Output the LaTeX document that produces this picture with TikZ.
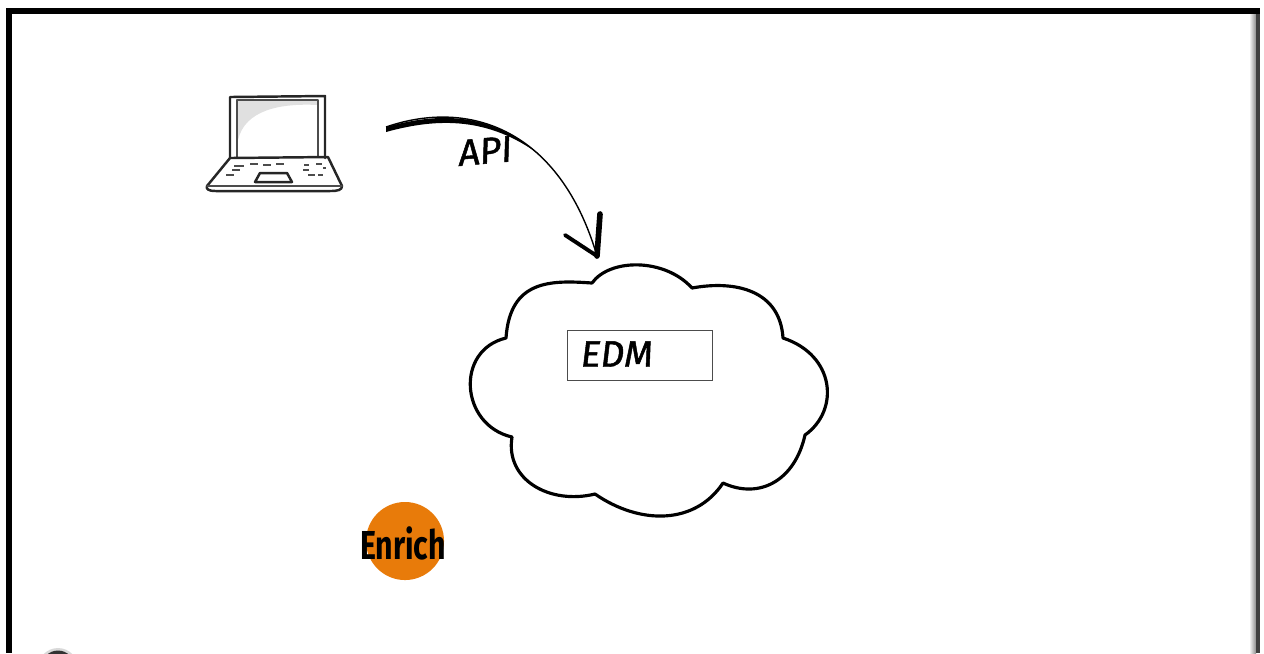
\documentclass[tikz,border=0pt]{standalone}
\usepackage{fontspec}
\setmainfont{Fira Sans}
\newfontfamily\handfont{Fira Sans}[FakeBold=1.3,FakeSlant=0.12]
\definecolor{enrichorange}{HTML}{E87B0A}
\tikzset{
  sketch/.style={draw=black!70,line width=0.45pt,line join=round,line cap=round},
  heavy/.style={draw=black,line width=0.9pt,line join=round,line cap=round},
  laptopline/.style={draw=black!85,line width=0.7pt,line join=round,line cap=round},
  keydash/.style={draw=black!70,line width=0.7pt},
  hand/.style={inner sep=0pt,font=\fontsize{10.5}{12}\handfont},
  edmbox/.style={draw=black!70,line width=0.5pt,minimum width=1.45cm,minimum height=0.5cm,inner sep=0pt},
  enrichdot/.style={circle,fill=enrichorange,minimum size=0.78cm,inner sep=0pt}
}
\begin{document}
\begin{tikzpicture}[x=0.01cm,y=-0.01cm]
   \useasboundingbox (0,0) rectangle (1264,653);
   \fill[black] (6,8) rectangle (1260,14);
   \fill[black] (6,8) rectangle (12,653);
   \shade[left color=white,right color=black!45] (1249,14) rectangle (1256,653);
   \fill[black!75] (1256,14) rectangle (1260,653);
   \begin{scope}
     \clip (0,0) rectangle (1264,653);
     \fill[black!15] (58,668) ellipse (20 and 20);
     \fill[black!80] (58,668) ellipse (17 and 17.5);
   \end{scope}

   \fill[black!12] (237,100) -- (318,100) -- (318,105) .. controls (280,103) and (245,110) .. (238,140) -- cycle;
   \draw[laptopline] (230,158) -- (230,97) -- (325,96) -- (325,158);
   \draw[sketch] (237,158) -- (237,100) -- (318,100) -- (318,156);
   \draw[laptopline] (230,158) -- (328,157) -- (342,186) .. controls (342,190) and (338,191) .. (330,191)
     -- (216,191) .. controls (208,191) and (206,189) .. (207,186) -- cycle;
   \draw[sketch] (207,186) -- (342,186);
   \draw[laptopline] (255,182) -- (260,173) -- (287,173) -- (292,182) -- cycle;
   \foreach \xa/\ya/\xb in {234/166/244,232/170/240,250/164/258,263/165/271,276/164/284,
      226/175/234,304/165/309,316/164/322,303/170/309,323/168/326,308/175/315,318/175/323}
     \draw[keydash] (\xa,\ya) -- (\xb,\ya);

   \coordinate (apistart) at (386,127);
   \coordinate (apiend) at (597,256);
   \coordinate (apibarb) at (565,235);
   \coordinate (apiback) at (600,214);
   \draw[line width=0.4pt] (apistart) .. controls (470,98) and (560,130) .. (apiend);
   \fill[black] (apistart) .. controls (440,112) and (490,112) .. (540,155)
     .. controls (490,118) and (440,117) .. (386,132) -- cycle;
   \draw[line width=1.1pt,line cap=round] (apibarb) -- (apiend);
   \draw[line width=1.6pt,line cap=round] (apiback) -- (apiend);
   \node[hand,rotate=5] (api) at (484,151) {API};

   \draw[heavy] (592,283) .. controls (610,258) and (665,258) .. (692,288)
     .. controls (735,280) and (780,290) .. (783,338)
     .. controls (835,355) and (840,410) .. (805,435)
     .. controls (795,480) and (760,500) .. (723,483)
     .. controls (695,525) and (640,525) .. (595,494)
     .. controls (550,505) and (505,480) .. (512,437)
     .. controls (460,425) and (455,350) .. (506,338)
     .. controls (510,280) and (550,280) .. (592,283) -- cycle;
   \node[edmbox] (edm) at (640,355.5) {};
   \node[hand,anchor=west] (edmlabel) at (579,354) {EDM};

   \node[enrichdot] (enrich) at (405,541) {};
   \node[inner sep=0pt,xscale=0.75,font=\fontsize{11.5}{12}\selectfont\bfseries] (enrichlabel) at (403,543) {Enrich};
\end{tikzpicture}
\end{document}
